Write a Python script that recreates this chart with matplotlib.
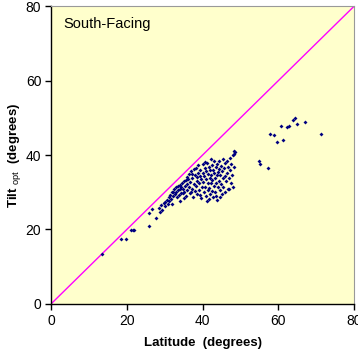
import matplotlib
matplotlib.use("Agg")
import matplotlib.pyplot as plt
import numpy as np

plt.rcParams['font.family'] = ['Liberation Sans', 'DejaVu Sans']
plt.rcParams['mathtext.fontset'] = 'custom'
plt.rcParams['mathtext.rm'] = 'Liberation Sans'

# Latitude (degrees) and optimal tilt (degrees) for each site
lat = [
    13.5, 18.5, 19.7, 21.0, 21.5, 21.9, 25.9, 25.8, 26.6, 27.6, 28.8,
    28.5, 29.0, 29.3, 29.8, 30.0, 30.2,
    30.5, 30.8, 31.0, 31.2, 31.5, 31.7, 32.0, 32.1, 32.3, 31.9,
    32.5, 32.7, 33.0, 33.1, 33.3, 33.5, 33.6, 33.8, 34.0, 34.1, 34.3, 34.4, 33.9,
    34.6, 34.8, 35.0, 35.1, 35.3, 35.5, 35.6, 35.8, 36.0, 35.9, 35.2, 34.7,
    36.2, 36.3, 36.5, 36.6, 36.8, 37.0, 37.1, 37.3, 37.4, 37.6, 37.7, 37.9, 38.0, 37.2, 36.9,
    38.2, 38.3, 38.5, 38.6, 38.7, 38.9, 39.0, 39.1, 39.3, 39.4, 39.5, 39.7, 39.8, 40.0, 40.0, 39.2, 38.4,
    40.2, 40.3, 40.4, 40.5, 40.7, 40.8, 40.9, 41.0, 41.1, 41.2, 41.3, 41.4, 41.5, 41.6, 41.8, 41.9, 42.0, 42.0, 40.6, 41.7,
    42.2, 42.3, 42.4, 42.5, 42.6, 42.7, 42.8, 42.9, 43.0, 43.1, 43.2, 43.3, 43.4, 43.5, 43.6, 43.7, 43.8, 44.0, 44.0, 42.1, 43.9,
    44.2, 44.3, 44.4, 44.5, 44.6, 44.8, 44.9, 45.0, 45.1, 45.3, 45.4, 45.5, 45.6, 45.8, 45.9, 46.0, 44.7,
    46.2, 46.3, 46.5, 46.6, 46.8, 47.0, 47.0, 47.2, 47.3, 47.5, 47.6, 47.8, 48.0, 48.2, 48.3, 48.0,
    48.6, 48.2,
    55.0, 55.2, 57.2, 57.8, 58.7, 59.5, 60.8, 61.2, 62.2, 62.9, 63.9, 64.5, 64.8, 66.9, 71.3,
]
tilt = [
    13.5, 17.4, 17.5, 19.9, 19.9, 19.8, 20.9, 24.3, 25.5, 23.2, 24.6,
    25.8, 26.5, 25.2, 27.0, 26.2, 27.5,
    28.0, 26.8, 28.8, 27.6, 29.3, 28.2, 30.0, 28.9, 30.2, 26.9,
    31.0, 29.5, 31.5, 30.0, 28.7, 31.8, 30.5, 29.2, 32.0, 30.8, 29.9, 31.5, 27.6,
    32.6, 31.0, 33.0, 30.2, 31.8, 29.0, 33.4, 32.1, 30.6, 34.0, 28.5, 29.8,
    33.5, 31.4, 34.8, 29.9, 32.7, 35.6, 31.0, 33.9, 28.7, 36.2, 32.2, 30.4, 34.6, 35.0, 30.0,
    31.6, 36.6, 33.1, 29.5, 35.2, 37.3, 32.4, 30.6, 34.3, 36.0, 28.4, 33.5, 31.3, 35.1, 37.5, 29.2, 34.0,
    32.8, 30.1, 34.4, 36.4, 31.5, 33.6, 29.0, 35.6, 37.9, 27.6, 32.5, 30.7, 34.8, 36.9, 31.2, 33.9, 29.6, 35.9, 38.2, 28.3,
    32.4, 34.6, 37.3, 30.4, 33.2, 36.1, 28.6, 31.7, 35.1, 38.5, 33.9, 30.0, 36.8, 32.6, 29.1, 34.5, 37.6, 31.3, 35.4, 38.9, 27.9,
    33.0, 36.3, 38.3, 30.6, 34.7, 32.1, 37.0, 29.5, 35.8, 33.7, 38.8, 31.4, 36.5, 34.3, 30.2, 37.8, 28.8,
    32.9, 35.2, 38.4, 30.8, 36.9, 33.8, 30.8, 39.3, 35.9, 32.4, 37.5, 34.6, 39.9, 36.8, 41.1, 31.5,
    40.8, 40.2,
    38.4, 37.7, 36.5, 45.6, 45.5, 43.4, 47.7, 44.0, 47.6, 47.9, 49.4, 49.9, 48.2, 48.8, 45.7,
]

fig = plt.figure(figsize=(3.58, 3.58), dpi=100)
ax = fig.add_axes([0.1425, 0.151, 0.847, 0.832])
ax.set_facecolor('#FFFFCC')

# 1:1 reference line
ax.plot([0, 80], [0, 80], color='#FF00FF', linewidth=1.0, zorder=2)
ax.scatter(lat, tilt, marker='D', s=4, color='#000080', linewidths=0, zorder=3)

ax.set_xlim(0, 80)
ax.set_ylim(0, 80)
ax.set_xticks([0, 20, 40, 60, 80])
ax.set_yticks([0, 20, 40, 60, 80])
ax.tick_params(direction='out', length=4, width=1, labelsize=10, pad=3)

for side in ['top', 'right']:
    ax.spines[side].set_color('#999999')
for side in ['left', 'bottom']:
    ax.spines[side].set_color('black')
    ax.spines[side].set_linewidth(1.0)

ax.text(0.04, 0.965, 'South-Facing', transform=ax.transAxes, va='top', ha='left', fontsize=10.5)

ax.set_xlabel('Latitude  (degrees)', fontsize=9.5, fontweight='bold', labelpad=7)
ax.set_ylabel(r'Tilt $_{\rm opt}$  (degrees)', fontsize=9.5, fontweight='bold', labelpad=2)

fig.savefig('out.png', dpi=100)
